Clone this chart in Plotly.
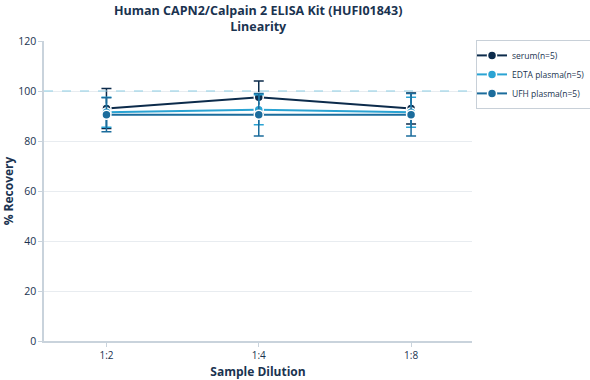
import plotly.graph_objects as go

dilutions = ["1:2", "1:4", "1:8"]
serum = [93.0, 97.5, 93.0]
serum_err = [8.0, 6.5, 6.2]
edta = [91.5, 92.5, 91.5]
edta_err = [6.0, 6.0, 6.0]
ufh = [90.5, 90.5, 90.5]
ufh_err = [6.8, 8.5, 8.5]
names = ["serum(n=5)", "EDTA plasma(n=5)", "UFH plasma(n=5)"]
colors = ["#0c2b4b", "#2aa3d3", "#1b6c9c"]

fig = go.Figure()
for y, e, n, c in zip([serum, edta, ufh], [serum_err, edta_err, ufh_err], names, colors):
    fig.add_trace(go.Scatter(
        x=dilutions, y=y, name=n, mode="lines+markers",
        line=dict(color=c, width=2),
        marker=dict(size=9, color=c, line=dict(color="white", width=1.5)),
        error_y=dict(type="data", array=e, visible=True, color=c, thickness=1.5, width=5),
    ))

fig.add_hline(y=100, line=dict(color="#8ccde3", width=1, dash="dash"))

font_c = "#1a3350"
fig.add_annotation(
    text="<b>Human CAPN2/Calpain 2 ELISA Kit (HUFI01843)<br>Linearity</b>",
    xref="paper", yref="paper", x=0.5, y=1.012, xanchor="center", yanchor="bottom",
    showarrow=False, font=dict(size=12.5, color=font_c, family="Open Sans"))

fig.update_layout(
    width=590, height=380,
    margin=dict(l=44, r=118, t=41, b=39),
    paper_bgcolor="white", plot_bgcolor="white",
    font=dict(family="Open Sans", size=11, color=font_c),
    legend=dict(xref="container", yref="container", x=0.8068, y=0.895,
                xanchor="left", yanchor="top", itemwidth=30, indentation=-5,
                bordercolor="#c8d0d8", borderwidth=1, font=dict(size=8.5, color=font_c),
                tracegroupgap=0),
    xaxis=dict(title=dict(text="<b>Sample Dilution</b>", font=dict(size=12)),
               automargin=False,
               range=[-0.41, 2.4], showline=True, linecolor="#c9d3dc", linewidth=1.5,
               ticks="outside", tickcolor="#c9d3dc", ticklen=4, showgrid=False,
               tickfont=dict(size=10)),
    yaxis=dict(title=dict(text="<b>% Recovery</b>", font=dict(size=12)),
               automargin=False,
               range=[0, 120], dtick=20, showline=True, linecolor="#c9d3dc", linewidth=1.5,
               ticks="outside", tickcolor="#c9d3dc", ticklen=4,
               showgrid=True, gridcolor="#e8ecf0", zeroline=False,
               tickfont=dict(size=10.5)),
)

fig.write_html("out.html", config={"displayModeBar": False},
               post_script="document.body.style.margin='0';document.body.style.overflow='hidden';")
